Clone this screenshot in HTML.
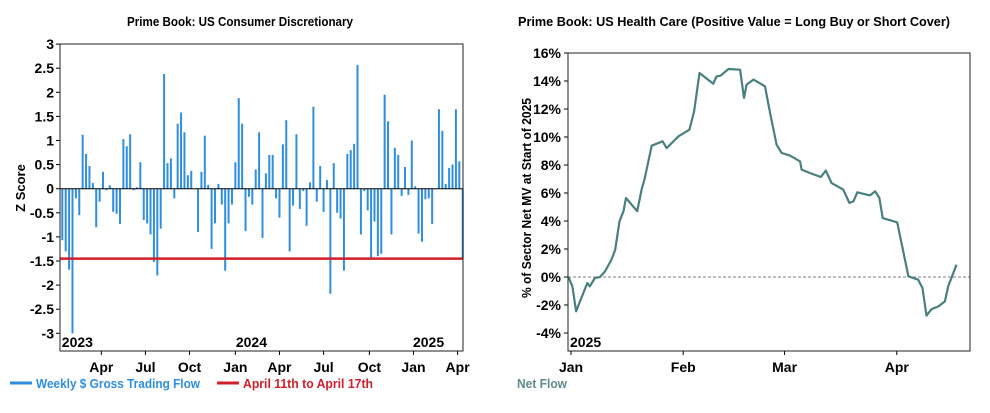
<!DOCTYPE html>
<html><head><meta charset="utf-8"><style>
html,body{margin:0;padding:0;background:#fff;}
svg{display:block;font-family:"Liberation Sans Narrow","Liberation Sans",sans-serif;font-weight:bold;}
</style></head><body>
<svg id="svg" width="990" height="413" viewBox="0 0 990 413" xmlns="http://www.w3.org/2000/svg">
<text x="240" y="26" font-size="12.5" text-anchor="middle" textLength="226" lengthAdjust="spacingAndGlyphs">Prime Book: US Consumer Discretionary</text>
<text x="734" y="26" font-size="12.5" text-anchor="middle" textLength="432" lengthAdjust="spacingAndGlyphs">Prime Book: US Health Care (Positive Value = Long Buy or Short Cover)</text>
<g id="left"></g>
<g id="right"></g>
<line x1="10" y1="383" x2="32" y2="383" stroke="#2f8fde" stroke-width="3"/>
<text x="36" y="388" font-size="13" fill="#2f8fde" textLength="164" lengthAdjust="spacingAndGlyphs">Weekly $ Gross Trading Flow</text>
<line x1="217" y1="383" x2="239" y2="383" stroke="#d0202a" stroke-width="3"/>
<text x="243" y="388" font-size="13" fill="#d0202a" textLength="130" lengthAdjust="spacingAndGlyphs">April 11th to April 17th</text>
<text x="517" y="388" font-size="13" fill="#5f8c8c" textLength="50" lengthAdjust="spacingAndGlyphs">Net Flow</text>
</svg>
<script>
const zValues=[-1.07,-1.3,-1.68,-3.0,-0.2,-0.55,1.12,0.72,0.47,0.12,-0.8,-0.27,0.35,-0.03,0.07,-0.48,-0.52,-0.73,1.03,0.88,1.13,-0.03,0.03,0.55,-0.65,-0.72,-0.95,-1.52,-1.8,-0.83,2.38,0.53,0.63,-0.2,1.35,1.58,1.17,0.28,0.37,0,-0.9,0.35,1.1,0.08,-1.25,-0.72,0.1,-0.33,-1.7,-0.72,-0.33,0.55,1.88,1.35,-0.88,-0.17,-0.33,0.4,1.17,-1.02,0.32,0.7,0.7,-0.2,-0.6,0.92,1.42,-1.3,-0.35,1.13,-0.42,-0.05,-0.77,0.13,1.7,-0.27,0.47,-0.48,0.18,-2.18,0.53,-0.5,-0.62,-1.7,0.72,0.8,0.93,2.57,-0.95,-0.05,-0.45,-1.45,-0.68,-1.4,-1.35,1.95,1.4,-0.95,0.85,0.7,-0.15,0.45,-0.13,1.0,0.05,-0.93,-1.1,-0.22,-0.2,-0.73,0.0,1.65,1.2,0.1,0.43,0.5,1.65,0.57,-1.45];
const thresholdValue=-1.45;
const zTicks=[3,2.5,2,1.5,1,0.5,0,-0.5,-1,-1.5,-2,-2.5,-3];
const zTickLabels=["3","2.5","2","1.5","1","0.5","0","-0.5","-1","-1.5","-2","-2.5","-3"];
const leftMonthLabels=["Apr","Jul","Oct","Jan","Apr","Jul","Oct","Jan","Apr"];
const leftMonthWeeks=[11.5,24.5,37.5,51,64,77,90.5,103.5,116.5];
const leftYearLabels=["2023","2024","2025"];
const leftYearWeeks=[0,51.3,103.5];

const flowDays=[-0.7,0.4,1.4,2.5,4.5,5.2,6.6,8,9.4,11.2,12.2,13.4,14.5,15.2,18.3,19.5,20.4,22.3,25.3,26.4,29.7,32.7,34,35.5,39.3,40.2,41.3,43.5,46.7,47.8,48.5,50.4,53.6,55,56.8,58.2,60.5,63.3,63.7,66,69,70.4,72,75.2,76.9,78,79.1,82.6,84,85.2,86.1,88.6,90.1,91.3,93.2,95.9,97.1,98.2,99.6,101.5,103.3,104.2,106.5];
const flowValues=[0,-0.67,-2.45,-1.74,-0.43,-0.67,-0.07,0,0.4,1.24,1.95,3.98,4.7,5.64,4.7,6.24,7.07,9.38,9.69,9.21,10.05,10.52,11.83,14.57,13.81,14.33,14.38,14.86,14.81,12.79,13.74,14.1,13.62,11.71,9.45,8.86,8.67,8.26,7.67,7.43,7.14,7.6,6.71,6.24,5.29,5.4,6.05,5.83,6.12,5.64,4.21,4.02,3.9,2.43,0.05,-0.19,-0.79,-2.76,-2.29,-2.1,-1.74,-0.67,0.88];
const pctTicks=[16,14,12,10,8,6,4,2,0,-2,-4];
const pctTickLabels=["16%","14%","12%","10%","8%","6%","4%","2%","0%","-2%","-4%"];
const rightMonthLabels=["Jan","Feb","Mar","Apr"];
const rightMonthDays=[0,31,59,90];

const NS="http://www.w3.org/2000/svg";
function mk(parent,tag,attrs,text){const e=document.createElementNS(NS,tag);for(const k in attrs)e.setAttribute(k,attrs[k]);if(text!==undefined)e.textContent=text;parent.appendChild(e);return e;}

// LEFT
const L=document.getElementById('left');
const lx0=60,lx1=463,ly0=44,ly1=351;
const yZ=v=>188.7-v*48.2;
const xW=i=>62.3+i*(462.7-62.3)/(zValues.length-1);
zTicks.forEach((t,i)=>{
  let tk=mk(L,'line',{x1:lx0-4,x2:lx0,y1:yZ(t),y2:yZ(t),stroke:'#000','stroke-width':1});
  
  let lb=mk(L,'text',{x:lx0-6,y:yZ(t)+5,'font-size':14,'text-anchor':'end'},zTickLabels[i]);
  
});
zValues.forEach((v,i)=>{
  const y=yZ(Math.max(v,0)),h=Math.abs(yZ(v)-yZ(0));
  let b=mk(L,'rect',{x:xW(i)-1,y:y,width:2,height:Math.max(h,0.5),fill:'#2f8fde'});
  
});
let zl=mk(L,'line',{x1:lx0,x2:lx1,y1:yZ(0),y2:yZ(0),stroke:'#000','stroke-width':1});

let rl=mk(L,'line',{x1:lx0,x2:lx1,y1:yZ(thresholdValue),y2:yZ(thresholdValue),stroke:'#d0202a','stroke-width':2.5});

let lf=mk(L,'rect',{x:lx0,y:ly0,width:lx1-lx0,height:ly1-ly0,fill:'none',stroke:'#222','stroke-width':1});

leftMonthLabels.forEach((m,i)=>{
  const x=xW(leftMonthWeeks[i]);
  let tk=mk(L,'line',{x1:x,x2:x,y1:ly1,y2:ly1+4,stroke:'#000'});
  
  let lb=mk(L,'text',{x:x,y:372,'font-size':14,'text-anchor':'middle'},m);
  
});
leftYearLabels.forEach((yv,i)=>{
  let lb=mk(L,'text',{x:xW(leftYearWeeks[i])-0.5,y:347,'font-size':14},yv);
  
});
let yt=mk(L,'text',{x:0,y:0,'font-size':13,'text-anchor':'middle',transform:'translate(25,188) rotate(-90)'},'Z Score');


// RIGHT
const R=document.getElementById('right');
const rx0=568,rx1=970,ry0=53,ry1=351;
const yP=v=>277-v*14;
const xD=d=>571+d*3.62;
pctTicks.forEach((t,i)=>{
  let tk=mk(R,'line',{x1:rx0-4,x2:rx0,y1:yP(t),y2:yP(t),stroke:'#000'});
  
  let lb=mk(R,'text',{x:rx0-7,y:yP(t)+5,'font-size':14,'text-anchor':'end'},pctTickLabels[i]);
  
});
let z2=mk(R,'line',{x1:rx0,x2:rx1,y1:yP(0),y2:yP(0),stroke:'#555','stroke-width':0.8,'stroke-dasharray':'3,2'});

const pts=flowDays.map((d,i)=>xD(d).toFixed(1)+','+yP(flowValues[i]).toFixed(1)).join(' ');
let pl=mk(R,'polyline',{points:pts,fill:'none',stroke:'#4a7f80','stroke-width':2.2,'stroke-linejoin':'round'});

let rf=mk(R,'rect',{x:rx0,y:ry0,width:rx1-rx0,height:ry1-ry0,fill:'none',stroke:'#222','stroke-width':1});

rightMonthLabels.forEach((m,i)=>{
  const x=xD(rightMonthDays[i]);
  let tk=mk(R,'line',{x1:x,x2:x,y1:ry1,y2:ry1+4,stroke:'#000'});
  
  let lb=mk(R,'text',{x:x,y:372,'font-size':14,'text-anchor':'middle'},m);
  
});
let ry=mk(R,'text',{x:570,y:347,'font-size':14},'2025');

let rt=mk(R,'text',{x:0,y:0,'font-size':13,'text-anchor':'middle',transform:'translate(531,198) rotate(-90)',textLength:200,lengthAdjust:'spacingAndGlyphs'},'% of Sector Net MV at Start of 2025');

</script>
</body></html>
